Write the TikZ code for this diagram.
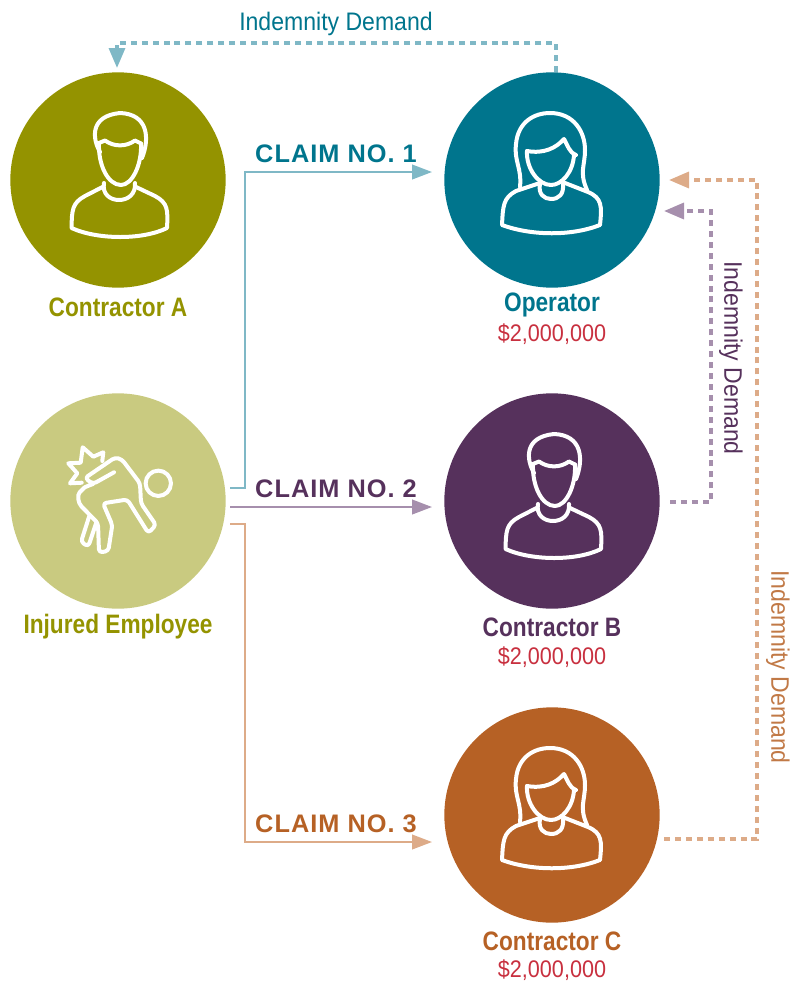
\documentclass[tikz,border=0pt]{standalone}
\usepackage{fontspec}
\usetikzlibrary{arrows.meta}
\setmainfont{Liberation Sans}[FakeStretch=0.85]
\newfontfamily\lightfont{Liberation Sans}[FakeStretch=0.91]
\newfontfamily\amountfont{Liberation Sans}[FakeStretch=0.9]
\newfontfamily\claimfont{Liberation Sans}[FakeStretch=1.0,LetterSpace=4,BoldFont={Liberation Sans Bold}]
\definecolor{tealdark}{HTML}{00758D}
\definecolor{teallight}{HTML}{7FB8C6}
\definecolor{olivedark}{HTML}{949300}
\definecolor{olivelight}{HTML}{C9CA80}
\definecolor{purpledark}{HTML}{56315C}
\definecolor{purplelight}{HTML}{A68FAD}
\definecolor{orangedark}{HTML}{B66125}
\definecolor{orangelight}{HTML}{DDAB88}
\definecolor{amount}{HTML}{C8303F}

\begin{document}
\begin{tikzpicture}[
        x=0.75pt, y=-0.75pt,
        party/.style = {circle, minimum size=161.5pt, inner sep=0pt},
        partyname/.style = {font=\fontsize{20}{22}\selectfont\bfseries, inner sep=0pt},
        amountlabel/.style = {font=\fontsize{18}{20}\selectfont\amountfont, text=amount, inner sep=0pt},
        claim/.style = {font=\fontsize{19}{20}\selectfont\claimfont\bfseries, inner sep=0pt},
        demandlabel/.style = {font=\fontsize{19}{20}\selectfont\lightfont, inner sep=0pt},
        claimline/.style = {line width=1.5pt, -{Triangle[length=15pt,width=11pt]}},
        demandline/.style = {line width=2.5pt, dash pattern=on 4.5pt off 3.7pt, -{Triangle[length=15pt,width=12pt]}},
        icon/.style = {draw=white, line width=3pt, line join=round, line cap=round},
        man/.pic = {
            \draw[icon] (-18,-28) .. controls (-26,-42) and (-28,-64) .. (2,-67) .. controls (30,-66) and (32,-42) .. (24,-22);
            \draw[icon] (-19,-37) -- (-13,-39.5) .. controls (-4,-33) and (8,-33) .. (17,-39.5) -- (23,-36.5);
            \draw[icon] (-19,-37) .. controls (-20,-15) and (-10,5) .. (3,5) .. controls (14,5) and (24,-15) .. (23,-36.5);
            \draw[icon] (-14,3) .. controls (-16,14) and (-8,20) .. (1,20) .. controls (10,20) and (18,14) .. (17,3);
            \draw[icon] (-14.5,6.5) -- (-33,16) .. controls (-46,23) and (-46,30) .. (-46.5,48) .. controls (-20,60) and (25,60) .. (49,48) .. controls (50,30) and (50,23) .. (37,16) -- (17,6.5);
        },
        woman/.pic = {
            \draw[icon] (-32,7) .. controls (-30,-12) and (-38,-18) .. (-36,-36) .. controls (-34,-58) and (-18,-67) .. (-2,-67) .. controls (22,-67) and (33,-48) .. (33,-30) .. controls (33,-14) and (27,-8) .. (35,10);
            \draw[icon] (-25,-29) .. controls (-8,-26) and (4,-32) .. (12,-41) .. controls (16,-34) and (17,-28) .. (24,-25);
            \draw[icon] (-25,-29) .. controls (-26,-12) and (-14,5) .. (-1,5) .. controls (10,5) and (21,-8) .. (22,-25);
            \draw[icon] (-12,4) .. controls (-14,14) and (-8,19) .. (-1,19) .. controls (7,19) and (12,14) .. (11,4);
            \draw[icon] (-12,3) -- (-36,11) .. controls (-49,18) and (-49,26) .. (-50,45) .. controls (-20,56) and (20,56) .. (48,45) .. controls (50,26) and (50,18) .. (36,12) -- (13,3);
        },
        injured/.pic = {
            \draw[icon] (40.3,-17.7) circle (9.5pt);
            \draw[icon] (-15.7,-40) -- (-14.7,-48.7) -- (-24.7,-44.3) -- (-35.3,-53.7) -- (-37.3,-38.3) -- (-49.7,-37.7) -- (-40.7,-27.7) -- (-48,-17.7) -- (-36.3,-18.3);
            \draw[icon, rounded corners=2.5pt] (-4,-28.7) -- (-25,-17) -- (-33,-23) -- (-3,-43.5) -- (4,-41.5) -- (22,-17.7) -- (23,2.3) -- (38,24) -- (30.3,32) -- (9.3,-1.5) -- (-15,2.3) -- (-5.7,24) -- (-9.7,50) -- (-19,51.5) -- (-20,22.3) -- (-34,8) .. controls (-40,2) and (-41,-6) .. (-36,-11) .. controls (-33,-14) and (-29,-15.5) .. (-25,-17);
            \draw[icon, rounded corners=2.5pt] (-28.7,15) -- (-37,41) -- (-29.7,45.5) -- (-21.5,21);
        }
        ]
        \useasboundingbox (0,0) rectangle (793,982);

        \node[party, fill=olivedark] (contrA) at (118,180) {};
        \node[party, fill=tealdark] (oper) at (552,180) {};
        \node[party, fill=olivelight] (empl) at (118,501) {};
        \node[party, fill=purpledark] (contrB) at (552,501) {};
        \node[party, fill=orangedark] (contrC) at (552,815) {};

        \pic at (contrA) {man};
        \pic at (oper) {woman};
        \pic at (empl) {injured};
        \pic at (contrB) {man};
        \pic at (contrC) {woman};

        \node[partyname, text=olivedark] (contrAname) at (118,307) {Contractor A};
        \node[partyname, text=tealdark] (opername) at (552,305) {Operator};
        \node[amountlabel] (operamount) at (552,334) {\$2,000,000};
        \node[partyname, text=olivedark] (emplname) at (118,627) {Injured Employee};
        \node[partyname, text=purpledark] (contrBname) at (552,627) {Contractor B};
        \node[amountlabel] (contrBamount) at (552,657) {\$2,000,000};
        \node[partyname, text=orangedark] (contrCname) at (552,941) {Contractor C};
        \node[amountlabel] (contrCamount) at (552,970) {\$2,000,000};

        % free ends of the connectors
        \coordinate (c1start) at (230,488);
        \coordinate (c1bend) at (245,172);
        \coordinate (c1end) at (432,172);
        \coordinate (c2start) at (230,507);
        \coordinate (c2end) at (432,507);
        \coordinate (c3start) at (230,524);
        \coordinate (c3bend) at (245,842);
        \coordinate (c3end) at (432,842);
        \coordinate (d1start) at (556,72);
        \coordinate (d1bend) at (117,43);
        \coordinate (d1end) at (117,68);
        \coordinate (d2start) at (670,502);
        \coordinate (d2bend) at (711,211);
        \coordinate (d2end) at (664,211);
        \coordinate (d3start) at (664,839);
        \coordinate (d3bend) at (757,180);
        \coordinate (d3end) at (669,180);

        \draw[claimline, teallight] (c1start) -| (c1bend) -- (c1end);
        \draw[claimline, purplelight] (c2start) -- (c2end);
        \draw[claimline, orangelight] (c3start) -| (c3bend) -- (c3end);

        \draw[demandline, teallight] (d1start) |- (d1bend) -- (d1end);
        \draw[demandline, purplelight] (d2start) -| (d2bend) -- (d2end);
        \draw[demandline, orangelight] (d3start) -| (d3bend) -- (d3end);

        \node[claim, text=tealdark] (claim1) at (336,154) {CLAIM NO. 1};
        \node[claim, text=purpledark] (claim2) at (336,489) {CLAIM NO. 2};
        \node[claim, text=orangedark] (claim3) at (336,824) {CLAIM NO. 3};

        \node[demandlabel, text=tealdark] (demand1) at (336,24) {Indemnity Demand};
        \node[demandlabel, text=purpledark, rotate=-90] (demand2) at (731,358) {Indemnity Demand};
        \node[demandlabel, text=orangedark!85!white, rotate=-90] (demand3) at (778,667) {Indemnity Demand};
    \end{tikzpicture}
\end{document}
